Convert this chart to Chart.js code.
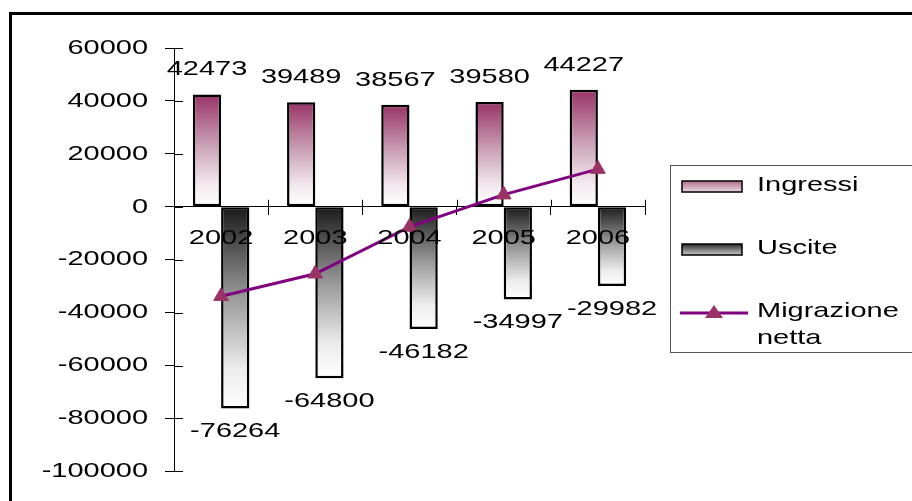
<!DOCTYPE html>
<html>
<head>
<meta charset="utf-8">
<script src="https://cdn.jsdelivr.net/npm/chart.js@4/dist/chart.umd.min.js"></script>
<style>
  body { margin: 0; background: #fff; }
  canvas { display: block; }
</style>
</head>
<body>
<canvas id="myChart" width="912" height="501"></canvas>
<script>
const years = ["2002", "2003", "2004", "2005", "2006"];
const ingressi = [42473, 39489, 38567, 39580, 44227];
const uscite = [-76264, -64800, -46182, -34997, -29982];
const migrazioneNetta = [-33791, -25311, -7615, 4583, 14245];
const yTicks = [60000, 40000, 20000, 0, -20000, -40000, -60000, -80000, -100000];

const FONT = { family: "Liberation Sans", size: 21 };
const fontStr = "21px 'Liberation Sans'";
const TEXT_STRETCH = 1.38;

function pinkGradient(ctx, top, bottom) {
  const g = ctx.createLinearGradient(0, top, 0, bottom);
  g.addColorStop(0, "#993366");
  g.addColorStop(0.45, "#caa0b5");
  g.addColorStop(0.8, "#f3e9ee");
  g.addColorStop(1, "#ffffff");
  return g;
}

function greyGradient(ctx, top, bottom) {
  const g = ctx.createLinearGradient(0, top, 0, bottom);
  g.addColorStop(0, "#1a1a1a");
  g.addColorStop(0.45, "#9a9a9a");
  g.addColorStop(0.8, "#ececec");
  g.addColorStop(1, "#ffffff");
  return g;
}

function barGradient(context, kind) {
  const chart = context.chart;
  const y = chart.scales.y;
  const fallback = kind === "pink" ? "#993366" : "#333";
  if (!y || context.raw === undefined) return fallback;
  const v = y.getPixelForValue(context.raw);
  const base = y.getPixelForValue(0);
  if (!isFinite(v) || !isFinite(base) || v === base) return fallback;
  if (kind === "pink") return pinkGradient(chart.ctx, v, base);
  return greyGradient(chart.ctx, base, v);
}

// the original text is wide, so every fillText is stretched around its anchor
const stretchText = {
  id: "stretchText",
  beforeDraw(chart) {
    const ctx = chart.ctx;
    if (ctx._stretched) return;
    const orig = ctx.fillText;
    ctx.fillText = function (text, x, y) {
      this.save();
      this.translate(x, y);
      this.scale(TEXT_STRETCH, 1);
      orig.call(this, text, 0, 0);
      this.restore();
    };
    ctx._stretched = true;
  },
};

// crossing tick marks on the inside of the axes
const innerTicks = {
  id: "innerTicks",
  afterDraw(chart) {
    const ctx = chart.ctx;
    const x = chart.scales.x;
    const y = chart.scales.y;
    const zero = y.getPixelForValue(0);
    ctx.save();
    ctx.strokeStyle = "#000";
    ctx.lineWidth = 1;
    ctx.beginPath();
    yTicks.forEach(function (t) {
      const p = Math.round(y.getPixelForValue(t)) + 0.5;
      ctx.moveTo(y.right, p);
      ctx.lineTo(y.right + 9, p);
    });
    const step = x.getPixelForValue(1) - x.getPixelForValue(0);
    for (let i = 0; i <= years.length; i++) {
      const p = Math.round(x.getPixelForValue(0) - step / 2 + i * step) + 0.5;
      ctx.moveTo(p, zero);
      ctx.lineTo(p, zero - 7);
    }
    ctx.stroke();
    ctx.restore();
  },
};

const valueLabels = {
  id: "valueLabels",
  afterDatasetsDraw(chart) {
    const ctx = chart.ctx;
    ctx.save();
    ctx.font = fontStr;
    ctx.fillStyle = "#000";
    ctx.textAlign = "center";
    ctx.textBaseline = "middle";
    chart.getDatasetMeta(0).data.forEach(function (bar, i) {
      ctx.fillText(String(ingressi[i]), bar.x, bar.y - 25);
    });
    chart.getDatasetMeta(1).data.forEach(function (bar, i) {
      ctx.fillText(String(uscite[i]), bar.x, bar.y + 23);
    });
    ctx.restore();
  },
};

const frameAndLegend = {
  id: "frameAndLegend",
  afterDraw(chart) {
    const ctx = chart.ctx;
    ctx.save();
    // outer frame
    ctx.strokeStyle = "#000";
    ctx.lineWidth = 3;
    ctx.strokeRect(10.5, 13.5, 960, 560);
    // legend box
    ctx.strokeStyle = "#555";
    ctx.lineWidth = 1;
    ctx.strokeRect(670.5, 165.5, 300, 187);

    ctx.font = fontStr;
    ctx.fillStyle = "#000";
    ctx.textAlign = "left";
    ctx.textBaseline = "middle";

    // Ingressi
    ctx.fillStyle = pinkGradient(ctx, 176, 198);
    ctx.fillRect(682, 181, 60, 11);
    ctx.strokeStyle = "#000";
    ctx.lineWidth = 1.5;
    ctx.strokeRect(682, 181, 60, 11);
    ctx.fillStyle = "#000";
    ctx.fillText(chart.data.datasets[0].label, 757, 185);

    // Uscite
    ctx.fillStyle = greyGradient(ctx, 243, 262);
    ctx.fillRect(682, 244, 60, 11);
    ctx.strokeRect(682, 244, 60, 11);
    ctx.fillStyle = "#000";
    ctx.fillText(chart.data.datasets[1].label, 757, 248);

    // Migrazione netta
    ctx.strokeStyle = "#800080";
    ctx.lineWidth = 3;
    ctx.beginPath();
    ctx.moveTo(680, 313);
    ctx.lineTo(748, 313);
    ctx.stroke();
    ctx.fillStyle = "#993366";
    ctx.beginPath();
    ctx.moveTo(714, 305);
    ctx.lineTo(723, 318);
    ctx.lineTo(705, 318);
    ctx.closePath();
    ctx.fill();
    ctx.fillStyle = "#000";
    const words = chart.data.datasets[2].label.split(" ");
    ctx.fillText(words[0], 757, 311);
    ctx.fillText(words.slice(1).join(" "), 757, 338);
    ctx.restore();
  },
};

let myChart = new Chart(document.getElementById("myChart"), {
  type: "bar",
  data: {
    labels: years,
    datasets: [
      {
        label: "Ingressi",
        data: ingressi,
        backgroundColor: function (c) { return barGradient(c, "pink"); },
        borderColor: "#000",
        borderWidth: 2.5,
        borderSkipped: false,
        categoryPercentage: 0.6,
        barPercentage: 1,
      },
      {
        label: "Uscite",
        data: uscite,
        backgroundColor: function (c) { return barGradient(c, "grey"); },
        borderColor: "#000",
        borderWidth: 2.5,
        borderSkipped: false,
        categoryPercentage: 0.6,
        barPercentage: 1,
      },
      {
        type: "line",
        label: "Migrazione netta",
        data: migrazioneNetta,
        order: -1,
        borderColor: "#800080",
        borderWidth: 3,
        tension: 0,
        pointStyle: "triangle",
        pointRadius: 8.5,
        pointBackgroundColor: "#993366",
        pointBorderColor: "#993366",
        pointBorderWidth: 1,
      },
    ],
  },
  options: {
    responsive: false,
    animation: false,
    layout: { padding: { top: 48, bottom: 28, left: 0, right: 267 } },
    plugins: {
      legend: { display: false },
      tooltip: { enabled: false },
    },
    scales: {
      x: {
        position: { y: 0 },
        offset: true,
        grid: { drawOnChartArea: false, tickLength: 8, color: "#000", offset: true },
        border: { color: "#000", width: 1 },
        ticks: { font: FONT, color: "#000", padding: 11, maxRotation: 0, z: 1 },
        afterFit: function (s) { s.height = 0; },
      },
      y: {
        min: -100000,
        max: 60000,
        grid: { drawOnChartArea: false, tickLength: 9, color: "#000" },
        border: { color: "#000", width: 1 },
        ticks: {
          stepSize: 20000,
          font: FONT,
          color: "#000",
          padding: 17,
          callback: function (v) { return String(v); },
        },
        afterFit: function (s) { s.width = 174; },
      },
    },
  },
  plugins: [stretchText, innerTicks, valueLabels, frameAndLegend],
});
</script>
</body>
</html>
